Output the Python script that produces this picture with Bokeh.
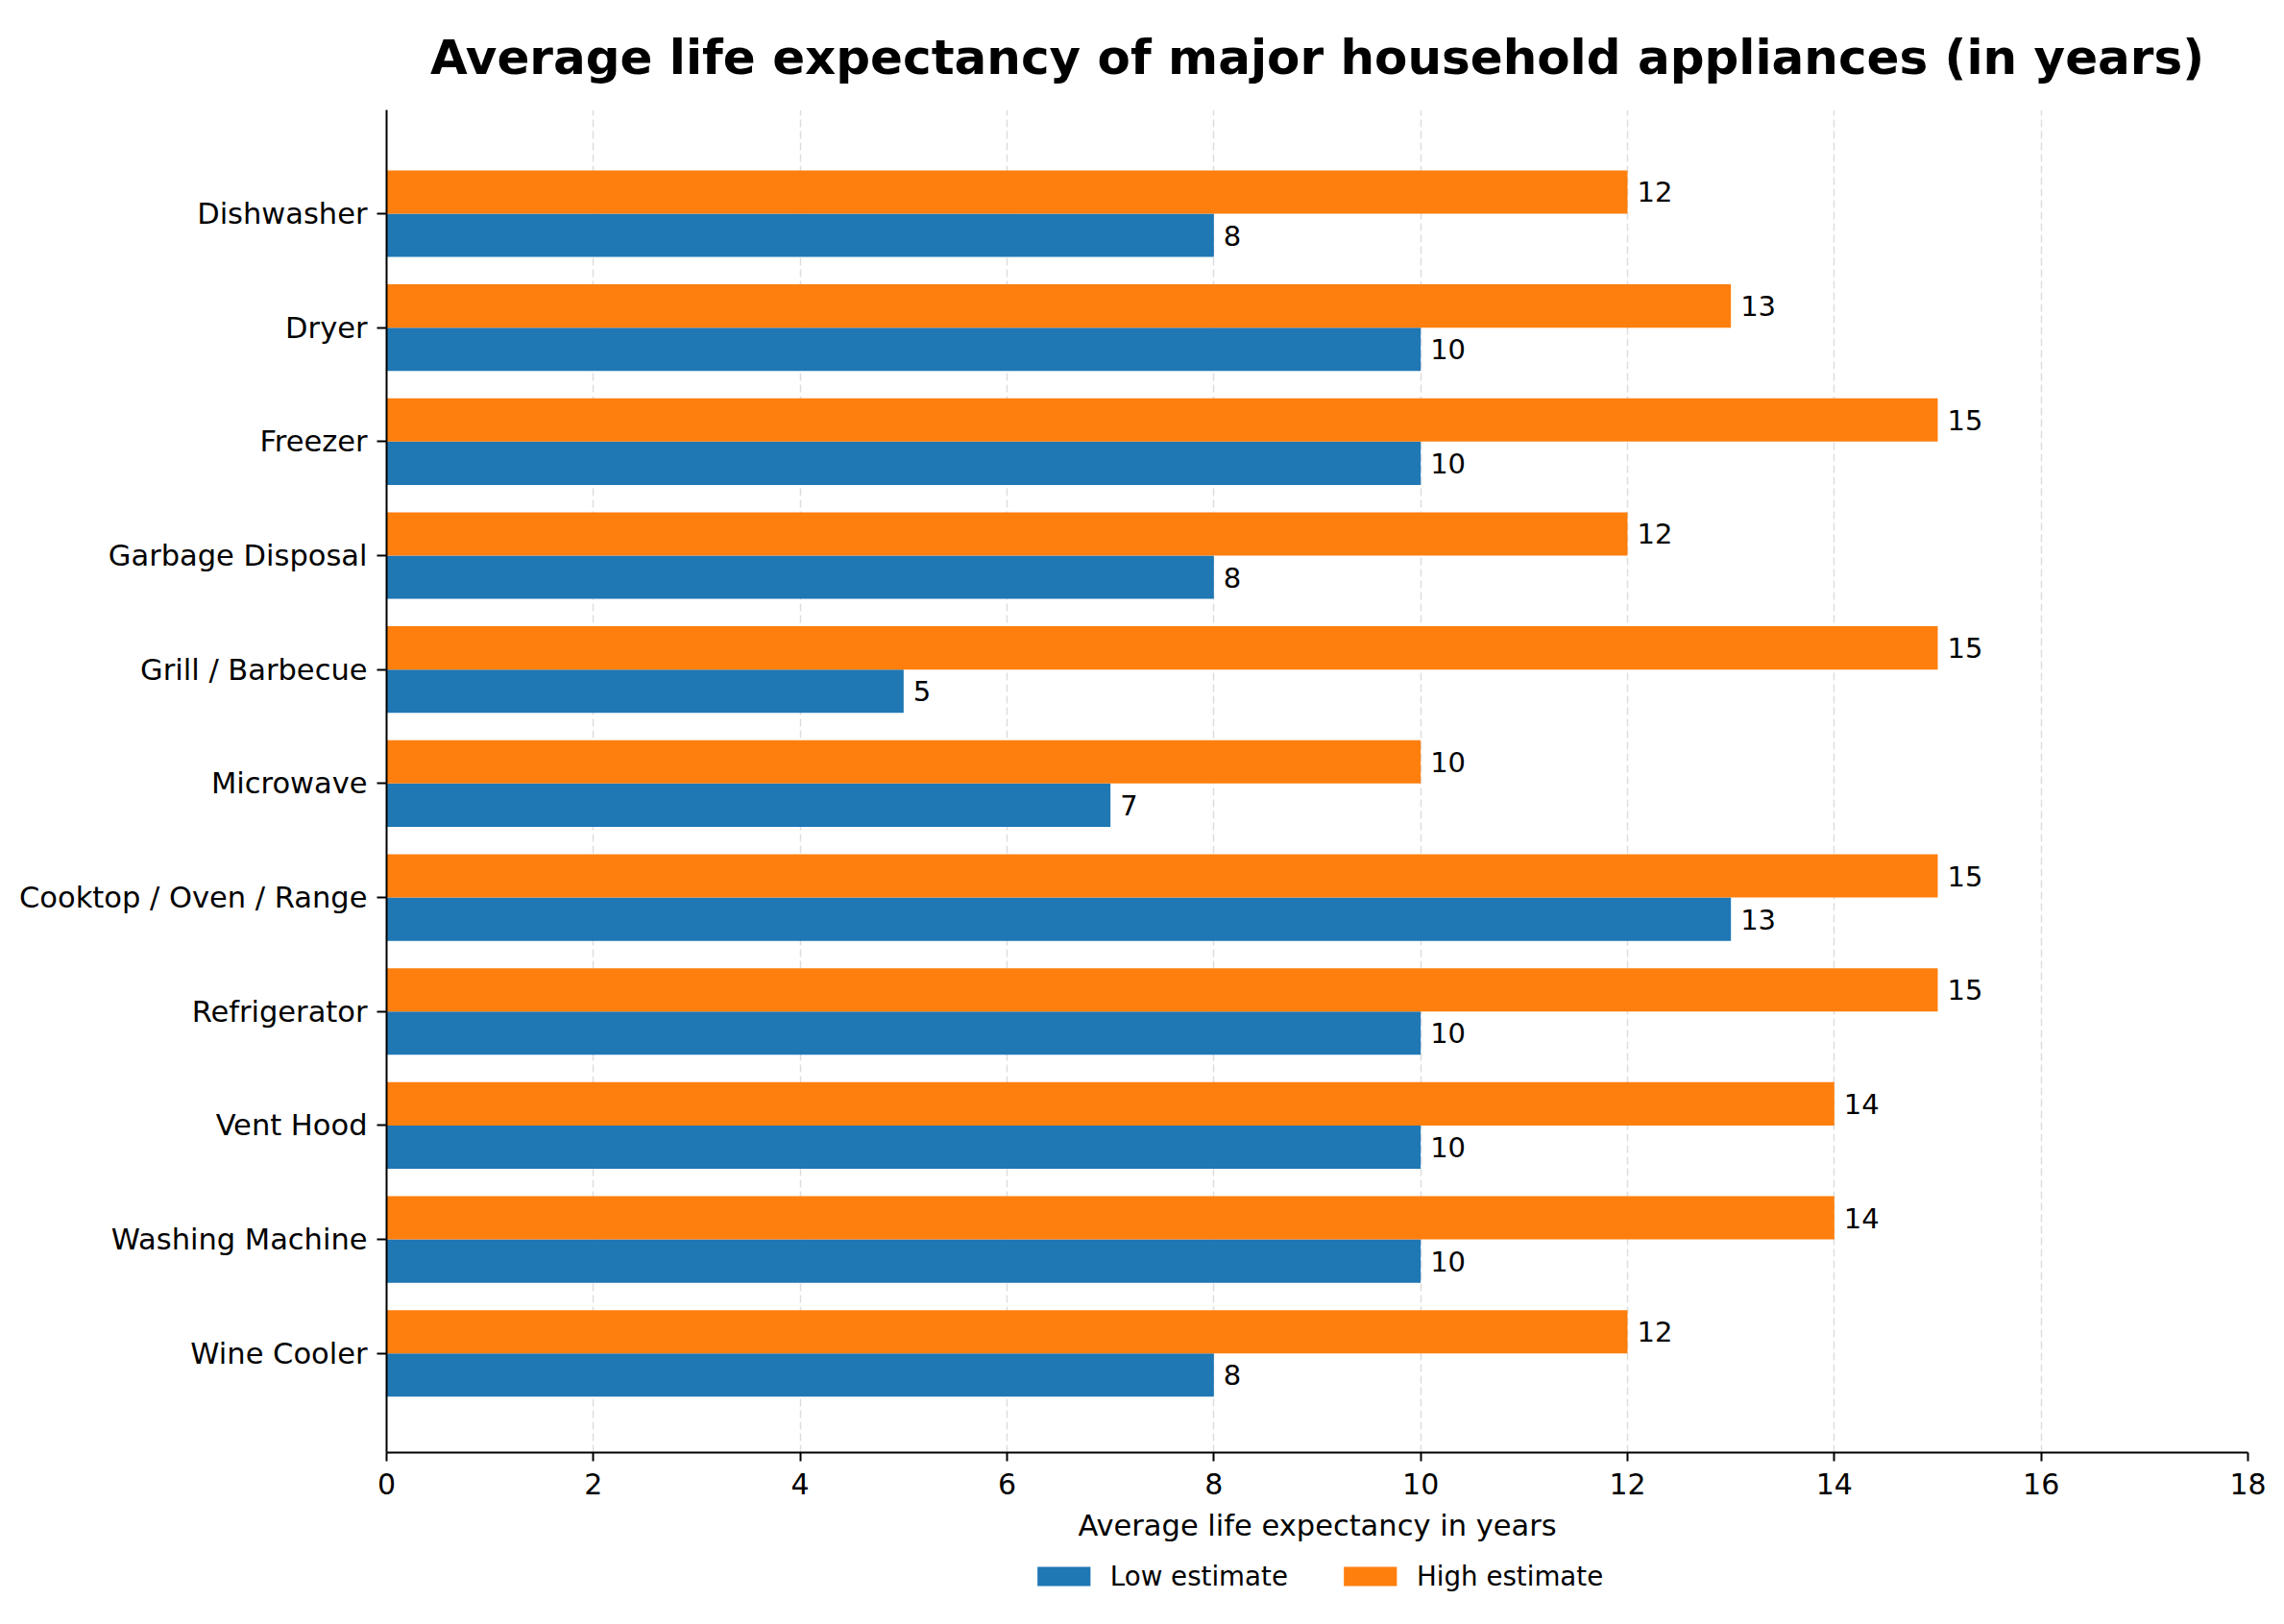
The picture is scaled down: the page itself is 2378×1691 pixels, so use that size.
from bokeh.plotting import figure
from bokeh.layouts import column
from bokeh.models import (Range1d, FixedTicker, ColumnDataSource, Legend, LegendItem)
from bokeh.transform import dodge
from bokeh.core.properties import value
from bokeh.embed import file_html
from bokeh.resources import INLINE

appliances = ["Dishwasher", "Dryer", "Freezer", "Garbage Disposal", "Grill / Barbecue",
              "Microwave", "Cooktop / Oven / Range", "Refrigerator", "Vent Hood",
              "Washing Machine", "Wine Cooler"]
low_estimate = [8, 10, 10, 8, 5, 7, 13, 10, 10, 10, 8]
high_estimate = [12, 13, 15, 12, 15, 10, 15, 15, 14, 14, 12]
x_ticks = [0, 2, 4, 6, 8, 10, 12, 14, 16, 18]
series_names = ["Low estimate", "High estimate"]

n = len(appliances)
pos = [n - 1 - i for i in range(n)]

src = ColumnDataSource(dict(
    pos=pos, name=appliances, low=low_estimate, high=high_estimate,
    low_txt=[str(v) for v in low_estimate], high_txt=[str(v) for v in high_estimate],
))

FONT = "DejaVu Sans"
BLUE = "#1f77b4"
ORANGE = "#ff7f0e"

p = figure(width=2378, height=1610, output_backend="svg", toolbar_location=None,
           x_range=Range1d(0, 18), y_range=Range1d(-0.87, 10.91),
           min_border_left=402, min_border_right=38, min_border_top=114,
           min_border_bottom=98)

p.title.text = "Average life expectancy of major household appliances (in years)"
p.title.text_font = FONT
p.title.text_font_size = "50px"
p.title.text_font_style = "bold"
p.title.align = "center"
p.title.text_color = "black"
p.title.standoff = 52

bw = 0.38
r_low = p.hbar(y=dodge("pos", -bw / 2), right="low", left=0, height=bw,
               fill_color=BLUE, line_color=None, source=src)
r_high = p.hbar(y=dodge("pos", bw / 2), right="high", left=0, height=bw,
                fill_color=ORANGE, line_color=None, source=src)

p.text(x="low", y=dodge("pos", -bw / 2), text="low_txt", x_offset=10,
       text_baseline="middle", text_align="left", text_font=value(FONT),
       text_font_size="29px", text_color="black", source=src)
p.text(x="high", y=dodge("pos", bw / 2), text="high_txt", x_offset=10,
       text_baseline="middle", text_align="left", text_font=value(FONT),
       text_font_size="29px", text_color="black", source=src)

p.outline_line_color = None

# x axis
xa = p.xaxis[0]
xa.ticker = FixedTicker(ticks=x_ticks)
xa.axis_label = "Average life expectancy in years"
xa.axis_label_text_font = FONT
xa.axis_label_text_font_size = "30.5px"
xa.axis_label_text_font_style = "normal"
xa.axis_label_text_color = "black"
xa.axis_label_standoff = 12
xa.major_label_text_font = FONT
xa.major_label_text_font_size = "30px"
xa.major_label_text_color = "black"
xa.major_label_standoff = 12
xa.axis_line_width = 2
xa.major_tick_line_width = 2
xa.major_tick_out = 9
xa.major_tick_in = 0
xa.minor_tick_line_color = None

# y axis
ya = p.yaxis[0]
ya.ticker = FixedTicker(ticks=pos)
ya.major_label_overrides = {pp: nm for pp, nm in zip(pos, appliances)}
ya.major_label_text_font = FONT
ya.major_label_text_font_size = "30.5px"
ya.major_label_text_color = "black"
ya.major_label_standoff = 10
ya.axis_line_width = 2
ya.major_tick_line_width = 2
ya.major_tick_out = 10
ya.major_tick_in = 0
ya.minor_tick_line_color = None

p.ygrid.grid_line_color = None
p.xgrid.grid_line_color = "#dddddd"
p.xgrid.grid_line_width = 1.5
p.xgrid.grid_line_dash = "8 4"

# legend strip below the chart (zero-width proxy bars carry the legend swatches)
leg = figure(width=2378, height=81, output_backend="svg", toolbar_location=None,
             x_range=Range1d(0, 1), y_range=Range1d(0, 1),
             x_axis_location=None, y_axis_location=None,
             min_border_left=402, min_border_right=38, min_border_top=0,
             min_border_bottom=19)
leg.outline_line_color = None
leg.grid.visible = False
leg.background_fill_color = "white"
leg.border_fill_color = "white"
proxy = ColumnDataSource(dict(y=[0.5], right=[0.0]))
d_low = leg.hbar(y="y", right="right", left=0, height=0.1, fill_color=BLUE,
                 line_color=None, source=proxy)
d_high = leg.hbar(y="y", right="right", left=0, height=0.1, fill_color=ORANGE,
                  line_color=None, source=proxy)
legend = Legend(items=[LegendItem(label=series_names[0], renderers=[d_low]),
                       LegendItem(label=series_names[1], renderers=[d_high])],
                orientation="horizontal", location="center",
                glyph_width=69, glyph_height=25, label_standoff=14, spacing=51,
                padding=4, margin=0, border_line_color=None, background_fill_alpha=0,
                label_text_font=FONT, label_text_font_size="27.7px",
                label_text_color="black")
leg.add_layout(legend, "center")

open("out.html", "w").write(file_html(column(p, leg, spacing=0), INLINE))
